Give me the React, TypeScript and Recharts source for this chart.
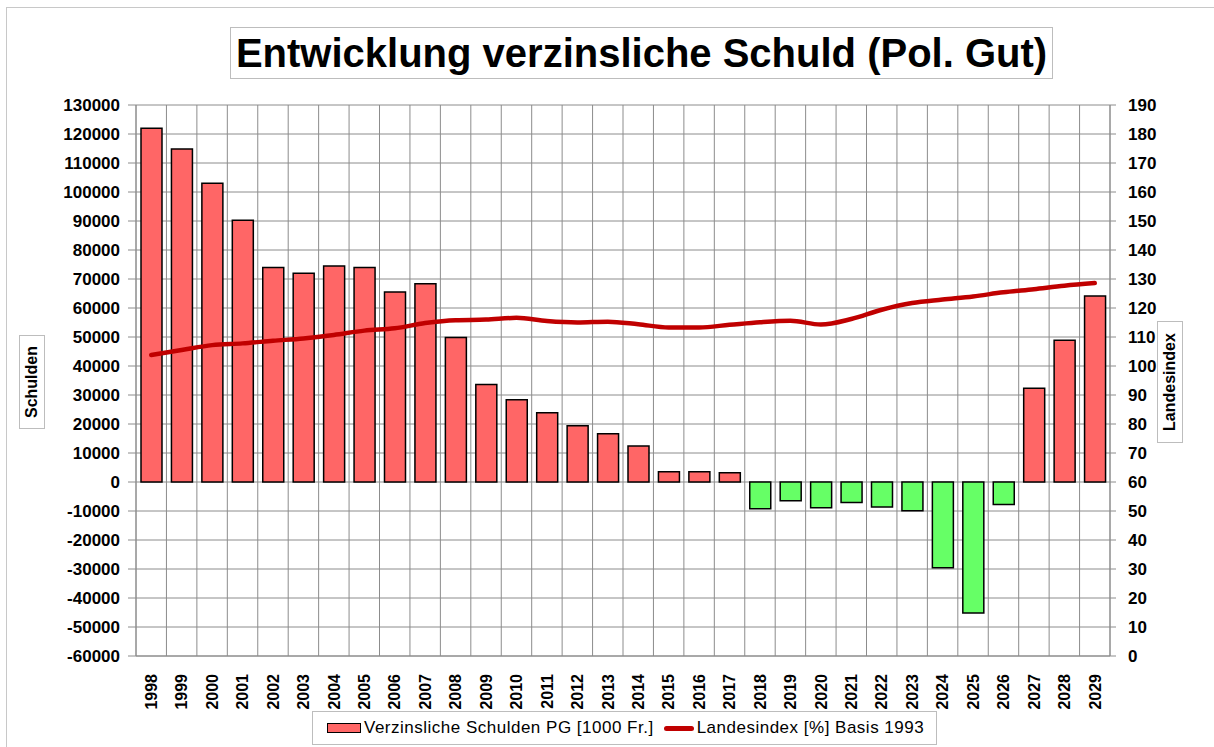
import React from 'react';
import { ComposedChart, Bar, Line, Cell, XAxis, YAxis, CartesianGrid, Legend } from 'recharts';

const years = [
  '1998', '1999', '2000', '2001', '2002', '2003', '2004', '2005', '2006', '2007', '2008',
  '2009', '2010', '2011', '2012', '2013', '2014', '2015', '2016', '2017', '2018', '2019',
  '2020', '2021', '2022', '2023', '2024', '2025', '2026', '2027', '2028', '2029',
];

const schulden = [
  122000, 114800, 103000, 90300, 74000, 72000, 74500, 74000, 65500, 68400, 49800,
  33600, 28400, 23900, 19400, 16600, 12400, 3500, 3500, 3200, -9200, -6500,
  -8900, -7100, -8600, -9900, -29600, -45200, -7800, 32300, 48900, 64100,
];

const landesindex = [
  103.8, 105.5, 107.2, 107.8, 108.7, 109.5, 110.7, 112.2, 113.0, 114.8, 115.8,
  116.0, 116.6, 115.5, 115.0, 115.3, 114.4, 113.3, 113.3, 114.2, 115.1, 115.6,
  114.3, 116.2, 119.4, 121.7, 122.9, 124.0, 125.4, 126.5, 127.7, 128.6,
];

const leftTicks = [
  -60000, -50000, -40000, -30000, -20000, -10000, 0, 10000, 20000, 30000, 40000,
  50000, 60000, 70000, 80000, 90000, 100000, 110000, 120000, 130000,
];
const rightTicks = [
  0, 10, 20, 30, 40, 50, 60, 70, 80, 90, 100, 110, 120, 130, 140, 150, 160, 170, 180, 190,
];

const data = years.map((year, i) => ({
  year,
  schulden: schulden[i],
  index: landesindex[i],
}));

const FONT = '"Liberation Sans", Arial, sans-serif';
const RED = '#FF6666';
const GREEN = '#66FF66';
const LINE = '#C00000';
const GRID = '#8c8c8c';

const YearTick = (props: any) => {
  const { x, y, payload } = props;
  return (
    <text
      x={x}
      y={y + 10}
      transform={`rotate(-90 ${x} ${y + 10})`}
      textAnchor="end"
      dy="0.36em"
      fontFamily={FONT}
      fontWeight="bold"
      fontSize={16}
      fill="#000"
    >
      {payload.value}
    </text>
  );
};

// legend drawn as a boxed row like the Excel original
const LegendBox = () => (
  <div style={{ height: 34, position: 'relative' }}>
    <div
      style={{
        position: 'absolute',
        left: 312,
        top: 0,
        display: 'flex',
        alignItems: 'center',
        border: '1px solid #bdbdbd',
        width: 625,
        height: 34,
        boxSizing: 'border-box',
        fontFamily: FONT,
        fontSize: 17,
        letterSpacing: 0.5,
        color: '#000',
        paddingLeft: 14,
        whiteSpace: 'nowrap',
      }}
    >
      <span style={{ display: 'inline-block', width: 32, height: 8, background: RED, border: '1px solid #000', marginRight: 3 }} />
      <span>Verzinsliche Schulden PG [1000 Fr.]</span>
      <span style={{ display: 'inline-block', width: 30, height: 5, background: LINE, borderRadius: 3, marginLeft: 10, marginRight: 3 }} />
      <span>Landesindex [%] Basis 1993</span>
    </div>
  </div>
);

export default function App() {
  const n = years.length;
  return (
    <div style={{ position: 'absolute', left: 0, top: 0, width: 1214, height: 747, background: '#fff', fontFamily: FONT }}>
      <div style={{ position: 'absolute', left: 6, top: 7, width: 1220, height: 750, border: '1px solid #c8c8c8', boxSizing: 'border-box' }} />
      <div
        style={{
          position: 'absolute',
          left: 230,
          top: 27,
          width: 823,
          height: 52,
          border: '1px solid #bdbdbd',
          boxSizing: 'border-box',
          display: 'flex',
          alignItems: 'center',
          justifyContent: 'center',
          fontSize: 40,
          fontWeight: 'bold',
          color: '#000',
          whiteSpace: 'nowrap',
        }}
      >
        Entwicklung verzinsliche Schuld (Pol. Gut)
      </div>
      <div
        style={{
          position: 'absolute',
          left: 19,
          top: 335,
          width: 26,
          height: 94,
          border: '1px solid #bdbdbd',
          boxSizing: 'border-box',
          display: 'flex',
          alignItems: 'center',
          justifyContent: 'center',
        }}
      >
        <span style={{ transform: 'rotate(-90deg)', fontSize: 16, fontWeight: 'bold', whiteSpace: 'nowrap' }}>Schulden</span>
      </div>
      <div
        style={{
          position: 'absolute',
          left: 1157,
          top: 321,
          width: 26,
          height: 122,
          border: '1px solid #bdbdbd',
          boxSizing: 'border-box',
          display: 'flex',
          alignItems: 'center',
          justifyContent: 'center',
        }}
      >
        <span style={{ transform: 'rotate(-90deg)', fontSize: 16, fontWeight: 'bold', whiteSpace: 'nowrap' }}>Landesindex</span>
      </div>
      <div style={{ position: 'absolute', left: 0, top: 0 }}>
        <ComposedChart
          width={1214}
          height={747}
          data={data}
          margin={{ top: 105, right: 0, bottom: 2, left: 0 }}
        >
          <CartesianGrid
            yAxisId="left"
            stroke={GRID}
            strokeWidth={1}
            verticalCoordinatesGenerator={({ offset }: any) =>
              years.map((_, i) => offset.left + (i * offset.width) / n)
            }
          />
          <XAxis
            dataKey="year"
            interval={0}
            height={55}
            tickLine={false}
            axisLine={{ stroke: GRID }}
            tick={<YearTick />}
          />
          <YAxis
            yAxisId="left"
            width={136}
            domain={[-60000, 130000]}
            ticks={leftTicks}
            interval={0}
            tickSize={8}
            tickMargin={8}
            axisLine={{ stroke: GRID }}
            tickLine={{ stroke: GRID }}
            tick={{ fontFamily: FONT, fontWeight: 'bold', fontSize: 17, fill: '#000' }}
          />
          <YAxis
            yAxisId="right"
            orientation="right"
            width={104}
            domain={[0, 190]}
            ticks={rightTicks}
            interval={0}
            tickSize={6}
            tickMargin={12}
            axisLine={{ stroke: GRID, strokeWidth: 1.5 }}
            tickLine={{ stroke: GRID }}
            tick={{ fontFamily: FONT, fontWeight: 'bold', fontSize: 17, fill: '#000', textAnchor: 'start' }}
          />
          <Legend verticalAlign="bottom" height={34} content={<LegendBox />} />
          <Bar
            yAxisId="left"
            dataKey="schulden"
            name="Verzinsliche Schulden PG [1000 Fr.]"
            barSize={21}
            stroke="#000"
            strokeWidth={1.5}
            isAnimationActive={false}
          >
            {data.map((d, i) => (
              <Cell key={i} fill={d.schulden >= 0 ? RED : GREEN} />
            ))}
          </Bar>
          <Line
            yAxisId="right"
            dataKey="index"
            name="Landesindex [%] Basis 1993"
            type="monotone"
            stroke={LINE}
            strokeWidth={4.5}
            strokeLinejoin="round"
            strokeLinecap="round"
            dot={false}
            activeDot={false}
            isAnimationActive={false}
          />
        </ComposedChart>
      </div>
    </div>
  );
}
